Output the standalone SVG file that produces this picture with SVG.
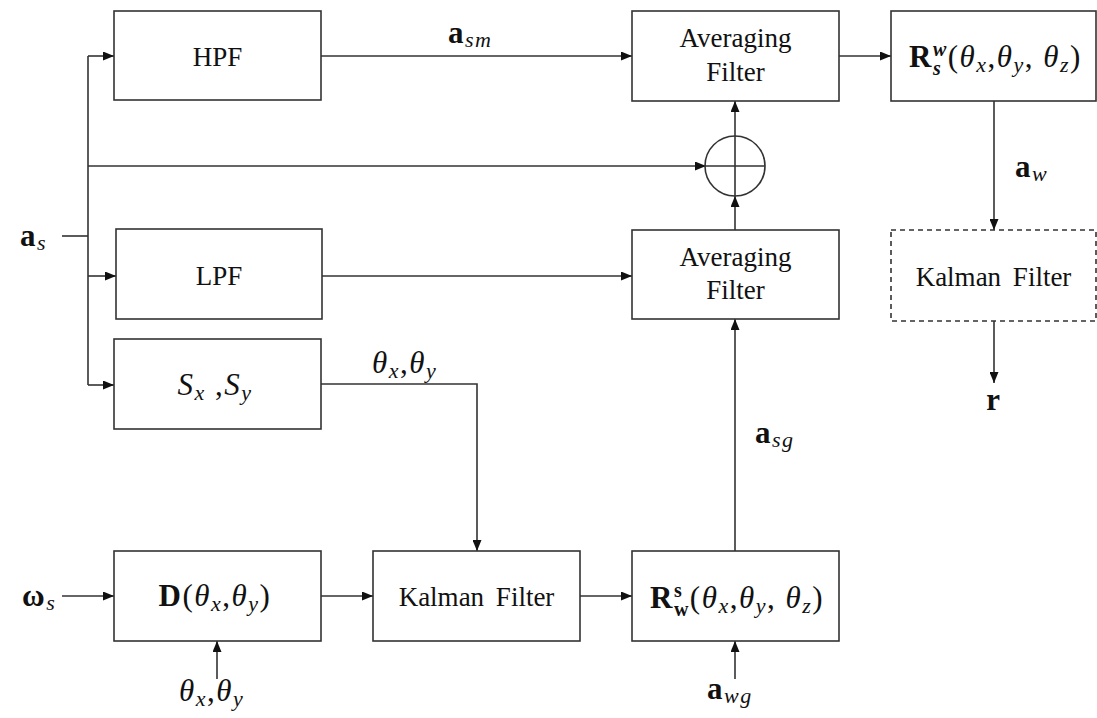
<svg xmlns="http://www.w3.org/2000/svg" width="1097" height="718" viewBox="0 0 1097 718" font-family="'Liberation Serif', 'Times New Roman', serif">
<defs>
<marker id="ah" markerWidth="11" markerHeight="9" refX="11" refY="4.5" orient="auto" markerUnits="userSpaceOnUse">
<path d="M0,0 L11,4.5 L0,9 Z" fill="#111"/>
</marker>
<style>
.box{fill:#fff;stroke:#333;stroke-width:1.6}
.dash{stroke-dasharray:5 4}
.ln{fill:none;stroke:#333;stroke-width:1.6}
.ar{marker-end:url(#ah)}
text{font-family:'Liberation Serif','Times New Roman',serif;fill:#111}
.t{font-size:27px}
.m{font-size:31px;letter-spacing:1.5px}
.c{text-anchor:middle}
.b{font-weight:bold}
.i{font-style:italic}
.s{font-size:22px}
.ss{font-size:20px}
</style>
</defs>
<rect width="1097" height="718" fill="#fff"/>

<g id="connectors">
<path class="ln" d="M62,236 H88"/>
<path class="ln" d="M88,56 V385"/>
<path class="ln ar" d="M88,56 H114"/>
<path class="ln ar" d="M88,166 H706"/>
<path class="ln ar" d="M88,276 H116"/>
<path class="ln ar" d="M88,385 H114"/>
<path class="ln ar" d="M321,56 H632"/>
<path class="ln ar" d="M839,56 H891"/>
<path class="ln ar" d="M322,276 H632"/>
<path class="ln ar" d="M321,384 H477 V551"/>
<path class="ln ar" d="M62,596 H114"/>
<path class="ln ar" d="M321,596 H373"/>
<path class="ln ar" d="M580,596 H632"/>
<path class="ln ar" d="M217,679 V641"/>
<path class="ln ar" d="M735,679 V641"/>
<path class="ln ar" d="M735,551 V319"/>
<path class="ln ar" d="M735,230 V196"/>
<path class="ln ar" d="M735,136 V101"/>
<path class="ln ar" d="M994,101 V230"/>
<path class="ln ar" d="M994,321 V383"/>
</g>

<g id="sum">
<circle cx="735" cy="166" r="30" fill="none" stroke="#333" stroke-width="1.6"/>
<path class="ln" d="M705,166 H765 M735,136 V196"/>
</g>

<g id="hpf">
<rect class="box" x="114" y="11" width="207" height="89"/>
<text class="t c" x="217.5" y="66">HPF</text>
</g>
<g id="avg-top">
<rect class="box" x="632" y="11" width="207" height="90"/>
<text class="t c" x="735.5" y="47">Averaging</text>
<text class="t c" x="735.5" y="81">Filter</text>
</g>
<g id="rsw">
<rect class="box" x="891" y="11" width="205" height="90"/>
<text class="m" x="909" y="67"><tspan class="b">R</tspan><tspan class="b i ss" dy="-11">w</tspan><tspan class="b i ss" dx="-14.8" dy="19">s</tspan><tspan dx="5.5" dy="-8">(</tspan><tspan class="i">θ</tspan><tspan class="i s" dy="5">x</tspan><tspan dy="-5">,</tspan><tspan class="i">θ</tspan><tspan class="i s" dy="5">y</tspan><tspan dy="-5">, </tspan><tspan class="i">θ</tspan><tspan class="i s" dy="5">z</tspan><tspan dy="-5">)</tspan></text>
</g>
<g id="lpf">
<rect class="box" x="116" y="229" width="206" height="90"/>
<text class="t c" x="219" y="285">LPF</text>
</g>
<g id="avg-low">
<rect class="box" x="632" y="230" width="207" height="89"/>
<text class="t c" x="735.5" y="266">Averaging</text>
<text class="t c" x="735.5" y="299">Filter</text>
</g>
<g id="kalman-out">
<rect class="box dash" x="891" y="230" width="205" height="91"/>
<text class="t c" x="993.5" y="286" word-spacing="5">Kalman Filter</text>
</g>
<g id="sxsy">
<rect class="box" x="114" y="339" width="207" height="90"/>
<text class="m c" x="215" y="395"><tspan class="i">S</tspan><tspan class="i s" dy="5">x</tspan><tspan dy="-5"> ,</tspan><tspan class="i">S</tspan><tspan class="i s" dy="5">y</tspan></text>
</g>
<g id="d">
<rect class="box" x="114" y="551" width="207" height="90"/>
<text class="m c" x="215" y="606"><tspan class="b">D</tspan>(<tspan class="i">θ</tspan><tspan class="i s" dy="5">x</tspan><tspan dy="-5">,</tspan><tspan class="i">θ</tspan><tspan class="i s" dy="5">y</tspan><tspan dy="-5">)</tspan></text>
</g>
<g id="kalman">
<rect class="box" x="373" y="551" width="207" height="90"/>
<text class="t c" x="476.5" y="606" word-spacing="5">Kalman Filter</text>
</g>
<g id="rws">
<rect class="box" x="632" y="551" width="207" height="90"/>
<text class="m" x="650" y="608"><tspan class="b">R</tspan><tspan class="b ss" dy="-11">s</tspan><tspan class="b ss" dx="-9.3" dy="19">w</tspan><tspan dx="0" dy="-8">(</tspan><tspan class="i">θ</tspan><tspan class="i s" dy="5">x</tspan><tspan dy="-5">,</tspan><tspan class="i">θ</tspan><tspan class="i s" dy="5">y</tspan><tspan dy="-5">, </tspan><tspan class="i">θ</tspan><tspan class="i s" dy="5">z</tspan><tspan dy="-5">)</tspan></text>
</g>

<g id="labels">
<text class="m" x="20" y="246"><tspan class="b">a</tspan><tspan class="i s" dy="4">s</tspan></text>
<text class="m" x="448" y="43"><tspan class="b">a</tspan><tspan class="i s" dy="4">sm</tspan></text>
<text class="m" x="372" y="373"><tspan class="i">θ</tspan><tspan class="i s" dy="5">x</tspan><tspan dy="-5">,</tspan><tspan class="i">θ</tspan><tspan class="i s" dy="5">y</tspan></text>
<text class="m" x="755" y="443"><tspan class="b">a</tspan><tspan class="i s" dy="4">sg</tspan></text>
<text class="m" x="1015" y="177"><tspan class="b">a</tspan><tspan class="i s" dy="4">w</tspan></text>
<text class="m c b" x="994" y="410">r</text>
<text class="m" x="22" y="606"><tspan class="b">ω</tspan><tspan class="i s" dy="4">s</tspan></text>
<text class="m" x="179" y="701"><tspan class="i">θ</tspan><tspan class="i s" dy="5">x</tspan><tspan dy="-5">,</tspan><tspan class="i">θ</tspan><tspan class="i s" dy="5">y</tspan></text>
<text class="m" x="707" y="699"><tspan class="b">a</tspan><tspan class="i s" dy="4">wg</tspan></text>
</g>
</svg>
